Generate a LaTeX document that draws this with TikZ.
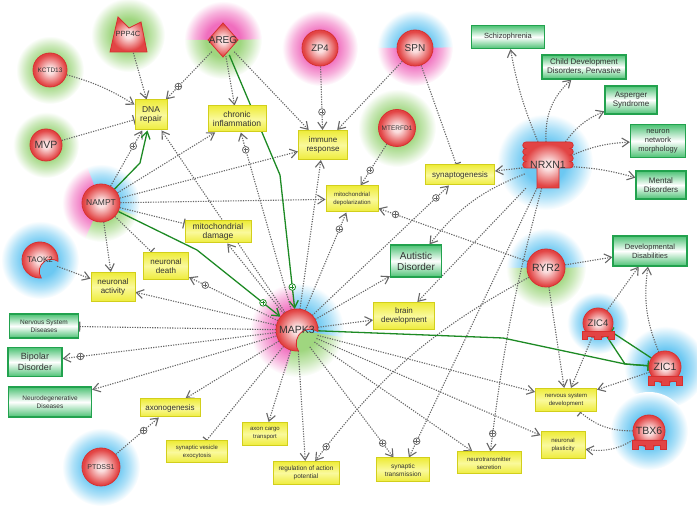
\documentclass[tikz,border=0pt]{standalone}
\usepackage{fontspec}
\setmainfont{Liberation Sans}
\usetikzlibrary{arrows.meta,positioning,decorations.markings}

\definecolor{genein}{HTML}{FBE0E0}
\definecolor{geneout}{HTML}{E24444}
\definecolor{genedraw}{HTML}{D63030}
\definecolor{hgreen}{HTML}{9FD67F}
\definecolor{hpink}{HTML}{F06EBE}
\definecolor{hblue}{HTML}{6CC8F2}
\definecolor{fnfill}{HTML}{EEEC3A}
\definecolor{fnlight}{HTML}{FAF99C}
\definecolor{fndraw}{HTML}{D2CF1C}
\definecolor{dxfill}{HTML}{4CC274}
\definecolor{dxdraw}{HTML}{22A24E}
\definecolor{reledge}{HTML}{666666}
\definecolor{grnedge}{HTML}{1D8A24}

\pgfdeclareradialshading{geneshade}{\pgfpoint{0bp}{0bp}}{color(0bp)=(genein);color(5bp)=(genein);color(23bp)=(geneout);color(50bp)=(geneout)}
\pgfdeclareradialshading{halogreen}{\pgfpoint{0bp}{0bp}}{color(0bp)=(hgreen);color(11bp)=(hgreen);color(18bp)=(hgreen!55!white);color(25bp)=(white);color(50bp)=(white)}
\pgfdeclareradialshading{halopink}{\pgfpoint{0bp}{0bp}}{color(0bp)=(hpink);color(11bp)=(hpink);color(18bp)=(hpink!55!white);color(25bp)=(white);color(50bp)=(white)}
\pgfdeclareradialshading{haloblue}{\pgfpoint{0bp}{0bp}}{color(0bp)=(hblue);color(11bp)=(hblue);color(18bp)=(hblue!55!white);color(25bp)=(white);color(50bp)=(white)}

\pgfdeclarelayer{halo}
\pgfdeclarelayer{edges}
\pgfsetlayers{halo,edges,main}

%% soft disc behind a molecule, or one sector of it
\newcommand{\halo}[3]{\shade[shading=#3] (#1) circle[radius=#2];}
\newcommand{\halopart}[5]{%
  \begin{scope}
    \clip (#1) -- ++(#4:#2) arc[start angle=#4,end angle=#5,radius=#2] -- cycle;
    \shade[shading=#3] (#1) circle[radius=#2];
  \end{scope}}

\begin{document}
\begin{tikzpicture}[x=1pt,y=1pt,
  fs/.style 2 args={font=\fontsize{#1}{#2}\selectfont},
  gene/.style={circle,draw=genedraw,line width=0.8pt,shade,shading=geneshade,inner sep=0pt,text=black!80},
  hold/.style={circle,inner sep=0pt,text=black!80},
  fn/.style={rectangle,draw=fndraw,line width=1pt,top color=fnfill,bottom color=fnfill,middle color=fnlight,align=center,inner sep=0.5pt,text=black!80},
  dx/.style={rectangle,draw=dxdraw,line width=1.2pt,top color=dxfill,bottom color=dxfill,middle color=white,align=center,inner sep=0.5pt,text=black!80},
  link/.style={draw=reledge,line width=1.1pt,dash pattern=on 1.2pt off 1.3pt},
  glink/.style={draw=grnedge,line width=1.3pt,solid},
  rel/.style={link,-{Straight Barb[length=7pt,width=9pt]}},
  inh/.style={link,-{Bar[width=10pt,line width=1.2pt]}},
  grel/.style={glink,-{Straight Barb[length=7pt,width=9pt]}},
  ginh/.style={glink,-{Bar[width=10pt,line width=1.3pt]}},
  pmark/.style 2 args={postaction={decorate,decoration={markings,mark=at position #1 with {%
      \pgftransformresetnontranslations
      \draw[-,solid,line width=0.8pt,draw=#2,fill=white] (0,0) circle[radius=3.3pt];
      \draw[-,solid,line width=0.8pt,draw=#2] (-2.2pt,0) -- (2.2pt,0) (0,-2.2pt) -- (0,2.2pt);}}}},
  act/.style={rel,pmark={#1}{reledge}}, act/.default=-18pt,
  gact/.style={grel,pmark={#1}{grnedge}}, gact/.default=-22pt,
  pics/kinase/.style={code={%
    \shadedraw[shading=geneshade,draw=genedraw,line width=0.8pt] (-4:#1)
      arc[start angle=-4,end angle=274,radius=#1]
      arc[start angle=213.5,end angle=56.5,radius=0.667*#1] -- cycle;}},
  pics/phos/.style={code={%
    \shadedraw[shading=geneshade,draw=genedraw,line width=0.8pt]
      (-18,-17) -- (-10,18) -- (1,7) -- (13,13) -- (19,-17) -- cycle;}},
  pics/dia/.style={code={%
    \shadedraw[shading=geneshade,draw=genedraw,line width=0.8pt]
      (0,17) -- (15,0) -- (0,-17) -- (-15,0) -- cycle;}},
  pics/receptor/.style={code={%
    \shadedraw[shading=geneshade,draw=genedraw,line width=0.8pt]
      (-22,23) -- (22,23)
      arc[start angle=90,end angle=-90,radius=3.25] arc[start angle=90,end angle=-90,radius=3.25]
      arc[start angle=90,end angle=-90,radius=3.25] arc[start angle=90,end angle=-90,radius=3.25]
      -- (11,-3) -- (11,-23) -- (-11,-23) -- (-11,-3) -- (-22,-3)
      arc[start angle=270,end angle=90,radius=3.25] arc[start angle=270,end angle=90,radius=3.25]
      arc[start angle=270,end angle=90,radius=3.25] arc[start angle=270,end angle=90,radius=3.25] -- cycle;}},
  pics/treg/.style={code={%
    \shadedraw[shading=geneshade,draw=genedraw,line width=0.8pt] (0,0) circle[radius=#1];
    \begin{scope}[scale=#1/16]
      \filldraw[fill=geneout,draw=genedraw,line width=0.8pt] (-17,-9) -- (17,-9) -- (17,-18) -- (11,-18)
        -- (11,-14) -- (4,-14) -- (4,-18) -- (-4,-18) -- (-4,-14) -- (-11,-14) -- (-11,-18) -- (-17,-18) -- cycle;
    \end{scope}}}]

\useasboundingbox (0,0) rectangle (697,506);

%% halos
\begin{pgfonlayer}{halo}
\halo{50,436}{34}{halogreen}
\halo{128,471}{37}{halogreen}
\halopart{223,466}{39}{halopink}{0}{181}
\halopart{223,466}{39}{halogreen}{180}{361}
\halo{320,458}{38}{halopink}
\halopart{415,458}{38}{haloblue}{0}{181}
\halopart{415,458}{38}{halopink}{180}{361}
\halo{397,378}{39}{halogreen}
\halo{46,361}{33}{halogreen}
\halopart{101,303}{39}{haloblue}{-21}{112}
\halopart{101,303}{39}{halopink}{111}{247}
\halopart{101,303}{39}{halogreen}{246}{340}
\halo{40,246}{39}{haloblue}
\halopart{297,176}{47}{haloblue}{-10}{96}
\halopart{297,176}{47}{halopink}{95}{256}
\halopart{297,176}{47}{halogreen}{255}{351}
\halo{545,344}{48}{haloblue}
\halopart{546,238}{40}{haloblue}{0}{181}
\halopart{546,238}{40}{halogreen}{180}{361}
\halo{598,183}{31}{haloblue}
\halo{665,139}{41}{haloblue}
\halo{649,75}{39}{haloblue}
\halo{101,39}{39}{haloblue}
\end{pgfonlayer}

%% molecules
\node[gene,minimum size=34,fs={6.5}{7}] (kctd13) at (50,436) {KCTD13};
\pic at (128,471) {phos};
\node[hold,minimum size=34,fs={7.5}{8}] (ppp4c) at (128,472) {PPP4C};
\pic at (223,466) {dia};
\node[hold,minimum size=32,fs={10}{11}] (areg) at (223,466) {AREG};
\node[gene,minimum size=36,fs={9.5}{10}] (zp4) at (320,458) {ZP4};
\node[gene,minimum size=36,fs={10}{11}] (spn) at (415,458) {SPN};
\node[gene,minimum size=37,fs={6.5}{7}] (mterfd1) at (397,378) {MTERFD1};
\node[gene,minimum size=32,fs={10.5}{11}] (mvp) at (46,361) {MVP};
\node[gene,minimum size=38,fs={8.5}{9}] (nampt) at (101,303) {NAMPT};
\pic at (40,246) {kinase=18};
\node[hold,minimum size=36,fs={8}{9}] (taok2) at (40,246) {TAOK2};
\pic at (297,176) {kinase=21};
\node[hold,minimum size=42,fs={10.5}{11}] (mapk3) at (297,176) {MAPK3};
\pic at (548,341) {receptor};
\node[hold,rectangle,minimum width=46,minimum height=46,fs={10.5}{11}] (nrxn1) at (548,341) {NRXN1};
\node[gene,minimum size=38,fs={10.5}{11}] (ryr2) at (546,238) {RYR2};
\pic at (598,183) {treg=15};
\node[hold,minimum size=30,fs={9.5}{10}] (zic4) at (598,183) {ZIC4};
\pic at (665,139) {treg=16};
\node[hold,minimum size=32,fs={10.5}{11}] (zic1) at (665,139) {ZIC1};
\pic at (649,75) {treg=16};
\node[hold,minimum size=32,fs={10.5}{11}] (tbx6) at (649,75) {TBX6};
\node[gene,minimum size=38,fs={7}{8}] (ptdss1) at (101,39) {PTDSS1};

%% functions
\node[fn,minimum width=32,minimum height=30,fs={8.5}{9.5}] (dna) at (151,391) {DNA\\repair};
\node[fn,minimum width=58,minimum height=26,fs={8.5}{9.5}] (chronic) at (237,387) {chronic\\inflammation};
\node[fn,minimum width=49,minimum height=29,fs={8}{9.5}] (immune) at (323,361) {immune\\response};
\node[fn,minimum width=69,minimum height=20,fs={8}{9}] (syngen) at (460,331) {synaptogenesis};
\node[fn,minimum width=52,minimum height=26,fs={6}{8}] (mitodep) at (352,307) {mitochondrial\\depolarization};
\node[fn,minimum width=66,minimum height=22,fs={8.5}{9.5}] (mitodam) at (218,274) {mitochondrial\\damage};
\node[fn,minimum width=45,minimum height=27,fs={8}{9.5}] (ndeath) at (166,240) {neuronal\\death};
\node[fn,minimum width=44,minimum height=29,fs={8}{9.5}] (nact) at (113,219) {neuronal\\activity};
\node[fn,minimum width=61,minimum height=27,fs={8}{9.5}] (braindev) at (404,190) {brain\\development};
\node[fn,minimum width=60,minimum height=18,fs={8}{9}] (axono) at (170,98) {axonogenesis};
\node[fn,minimum width=61,minimum height=22,fs={6}{8}] (vesicle) at (197,54) {synaptic vesicle\\exocytosis};
\node[fn,minimum width=45,minimum height=23,fs={6}{8}] (cargo) at (265,72) {axon cargo\\transport};
\node[fn,minimum width=66,minimum height=23,fs={6.5}{8}] (actpot) at (306,33) {regulation of action\\potential};
\node[fn,minimum width=53,minimum height=24,fs={6.5}{8}] (syntrans) at (403,36) {synaptic\\transmission};
\node[fn,minimum width=64,minimum height=22,fs={6}{8}] (ntsec) at (489,43) {neurotransmitter\\secretion};
\node[fn,minimum width=44,minimum height=27,fs={6}{8}] (plast) at (563,61) {neuronal\\plasticity};
\node[fn,minimum width=61,minimum height=23,fs={6}{8}] (nsdev) at (566,106) {nervous system\\development};

%% diseases
\node[dx,minimum width=51,minimum height=32,fs={10}{11}] (autism) at (416,245) {Autistic\\Disorder};
\node[dx,minimum width=73,minimum height=23,fs={7.5}{8.5}] (schizo) at (508,469) {Schizophrenia};
\node[dx,minimum width=84,minimum height=24,fs={8}{9}] (childdev) at (584,439) {Child Development\\Disorders, Pervasive};
\node[dx,minimum width=52,minimum height=28,fs={8}{9}] (asperger) at (631,406) {Asperger\\Syndrome};
\node[dx,minimum width=55,minimum height=33,fs={7.5}{9}] (netmorph) at (658,365) {neuron\\network\\morphology};
\node[dx,minimum width=50,minimum height=28,fs={8}{9}] (mental) at (661,321) {Mental\\Disorders};
\node[dx,minimum width=74,minimum height=30,fs={7.5}{9}] (devdis) at (650,255) {Developmental\\Disabilities};
\node[dx,minimum width=69,minimum height=24,fs={6.5}{8}] (nsdis) at (44,180) {Nervous System\\Diseases};
\node[dx,minimum width=54,minimum height=29,fs={9}{10.5}] (bipolar) at (35,144) {Bipolar\\Disorder};
\node[dx,minimum width=83,minimum height=30,fs={6.5}{8}] (neurodeg) at (50,104) {Neurodegenerative\\Diseases};

%% bends of the green links
\coordinate (kareg) at (280,331);
\coordinate (knampt) at (140,343);
\coordinate (knampt2) at (197,256);
\coordinate (kmapk) at (503,168);
\coordinate (kzic) at (625,142);

\begin{pgfonlayer}{edges}
%% regulators of the functions
\draw[rel] (kctd13) to[bend left=8] (dna);
\draw[rel] (ppp4c) -- (dna);
\draw[act] (areg) -- (dna);
\draw[rel] (areg) -- (chronic);
\draw[rel] (areg) -- (immune);
\draw[inh] (mvp) -- (dna);
\draw[act] (zp4) -- (immune);
\draw[rel] (spn) -- (immune);
\draw[inh] (spn) -- (syngen);
\draw[act] (mterfd1) -- (mitodep);
\draw[rel] (taok2) -- (nact);
\draw[act=-20pt] (ptdss1) -- (axono);
\draw[act] (nampt) -- (dna);
\foreach \t in {chronic,immune,mitodep,nact}
  \draw[rel] (nampt) -- (\t);
\foreach \t in {mitodam,ndeath}
  \draw[inh] (nampt) -- (\t);

%% MAPK3 hub
\foreach \t in {dna,immune,mitodam,nact,neurodeg,axono,cargo,actpot,ntsec,nsdev,plast,braindev,autism}
  \draw[rel] (mapk3) -- (\t);
\foreach \t in {chronic,mitodep,ndeath,bipolar,syntrans,syngen}
  \draw[act] (mapk3) -- (\t);
\foreach \t in {nsdis,vesicle}
  \draw[inh] (mapk3) -- (\t);

%% NRXN1 and RYR2
\draw[rel] (nrxn1) to[bend left=6] (schizo);
\draw[rel] (nrxn1) to[bend left=25] (childdev);
\draw[rel] (nrxn1) to[bend left=15] (asperger);
\draw[rel] (nrxn1) to[bend left=10] (netmorph);
\draw[rel] (nrxn1) to[bend left=6] (mental);
\draw[rel] (nrxn1) -- (syngen);
\draw[rel] (nrxn1) to[bend right=15] (autism);
\draw[rel] (nrxn1) -- (braindev);
\draw[act] (nrxn1) -- (syntrans);
\draw[act] (nrxn1) to[bend right=4] (ntsec);
\draw[act] (ryr2) -- (mitodep);
\draw[rel] (ryr2) -- (devdis);
\draw[rel] (ryr2) -- (nsdev);
\draw[act] (ryr2) to[bend right=12] (actpot);

%% ZIC4, ZIC1, TBX6
\draw[rel] (zic4) -- (devdis);
\draw[rel] (zic4) -- (nsdev);
\draw[rel] (zic1) to[bend left=15] (devdis);
\draw[rel] (zic1) -- (nsdev);
\draw[inh] (tbx6) to[bend left=20] (nsdev);
\draw[rel] (tbx6) to[bend left=20] (plast);

%% green links
\draw[gact] (areg) -- (kareg) -- (mapk3);
\draw[grel] (nampt) -- (knampt) -- (dna);
\draw[gact] (nampt) -- (knampt2) -- (mapk3);
\draw[ginh] (mapk3) -- (kmapk) -- (kzic) -- (zic1);
\draw[ginh] (zic4) -- (kzic) -- (zic1);
\draw[ginh] (zic1) -- (zic4);
\end{pgfonlayer}
\end{tikzpicture}
\end{document}
